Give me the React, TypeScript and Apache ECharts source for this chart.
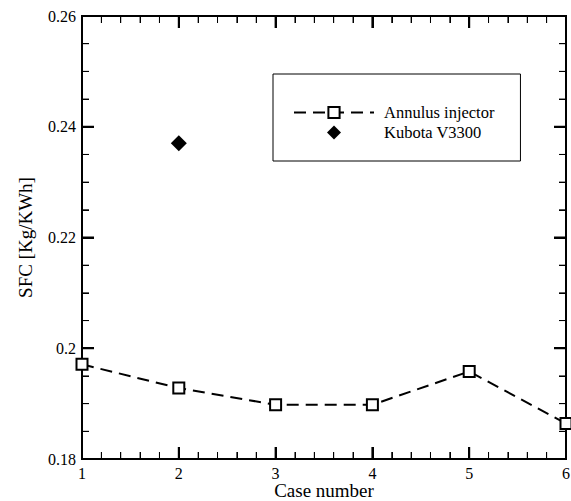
import React, { useEffect, useRef } from "react";
import * as echarts from "echarts";

const caseNumbers = [1, 2, 3, 4, 5, 6];
const annulusSFC = [0.1971, 0.1928, 0.1898, 0.1898, 0.1958, 0.1864];
const kubotaCase = [2];
const kubotaSFC = [0.237];
const xRange = { min: 1, max: 6, interval: 1 };
const yRange = { min: 0.18, max: 0.26, interval: 0.02 };
const xMinorSplit = 5;
const yMinorSplit = 4;

const FONT = "'Liberation Serif', serif";
const DIAMOND = "path://M0,-1L1,0L0,1L-1,0Z";

const L = 82;
const T = 16;
const R = 5;
const B = 42;
const MAJOR = 12;
const MINOR = 7;

// tick positions derived from the axis ranges: [value, 0 = x / 1 = y, 1 = major / 0 = minor]
function tickList() {
  const out: number[][] = [];
  const add = (r: { min: number; max: number; interval: number }, split: number, kind: number) => {
    const n = Math.round((r.max - r.min) / r.interval);
    for (let i = 0; i <= n; i++) {
      for (let j = 0; j < split; j++) {
        if (i === n && j > 0) break;
        const v = r.min + i * r.interval + (j * r.interval) / split;
        out.push([v, kind, j === 0 ? 1 : 0]);
      }
    }
  };
  add(xRange, xMinorSplit, 0);
  add(yRange, yMinorSplit, 1);
  return out;
}

function mainAxis(isX: boolean) {
  return {
    type: "value",
    gridIndex: 0,
    ...(isX ? xRange : yRange),
    axisLine: { show: true, onZero: false, lineStyle: { color: "#000", width: 2 } },
    axisTick: { show: true, inside: true, length: MAJOR, lineStyle: { color: "#000", width: 2 } },
    minorTick: { show: true, splitNumber: isX ? xMinorSplit : yMinorSplit, length: MINOR, lineStyle: { color: "#000", width: 1 } },
    splitLine: { show: false },
    axisLabel: { show: true, color: "#000", fontSize: 16, fontFamily: FONT, margin: 6 },
    name: isX ? "Case number" : "SFC [Kg/KWh]",
    nameLocation: "middle",
    nameGap: isX ? 22 : 47,
    nameMoveOverlap: isX ? false : undefined,
    nameTextStyle: { color: "#000", fontSize: 19, fontFamily: FONT },
  };
}

function stripAxis(isX: boolean, gridIndex: number, minor: boolean) {
  return {
    type: "value",
    gridIndex,
    ...(isX ? xRange : yRange),
    axisLine: { show: false },
    axisTick: { show: false },
    axisLabel: { show: false },
    minorTick: { show: false, splitNumber: isX ? xMinorSplit : yMinorSplit },
    splitLine: { show: !minor, lineStyle: { color: "#000", width: 2 } },
    minorSplitLine: { show: minor, lineStyle: { color: "#000", width: 1 } },
  };
}
function dummyAxis(gridIndex: number) {
  return { type: "value", gridIndex, min: 0, max: 1, show: false, splitLine: { show: false } };
}

export default function App() {
  const ref = useRef<HTMLDivElement>(null);
  useEffect(() => {
    if (!ref.current) return;
    const chart = echarts.init(ref.current, null, { renderer: "svg" });
    const ob = { outerBoundsMode: "none", containLabel: false };
    const grids = [
      { left: L, top: T, right: R, bottom: B, show: true, borderColor: "#000", borderWidth: 2, backgroundColor: "transparent", ...ob },
      { left: L, right: R, bottom: B, height: MAJOR, ...ob },
      { left: L, right: R, bottom: B, height: MINOR, ...ob },
      { left: L, right: R, top: T, height: MAJOR, ...ob },
      { left: L, right: R, top: T, height: MINOR, ...ob },
      { left: L, width: MAJOR, top: T, bottom: B, ...ob },
      { left: L, width: MINOR, top: T, bottom: B, ...ob },
      { right: R, width: MAJOR, top: T, bottom: B, ...ob },
      { right: R, width: MINOR, top: T, bottom: B, ...ob },
    ];
    const xAxes: any[] = [mainAxis(true)];
    const yAxes: any[] = [mainAxis(false)];
    for (let g = 1; g <= 4; g++) {
      xAxes.push(stripAxis(true, g, g % 2 === 0));
      yAxes.push(dummyAxis(g));
    }
    for (let g = 5; g <= 8; g++) {
      xAxes.push(dummyAxis(g));
      yAxes.push(stripAxis(false, g, g % 2 === 0));
    }
    chart.setOption({
      animation: false,
      textStyle: { fontFamily: FONT },
      grid: grids,
      legend: {
        orient: "vertical",
        left: 273,
        top: 74,
        borderColor: "#000",
        borderWidth: 1,
        padding: [30, 26, 20, 20],
        itemWidth: 80,
        itemHeight: 14,
        itemGap: 3,
        symbolKeepAspect: true,
        textStyle: { fontFamily: FONT, fontSize: 16.5, color: "#000", padding: [0, 0, 0, 5] },
        data: [
          { name: "Annulus injector" },
          { name: "Kubota V3300", icon: DIAMOND, itemStyle: { color: "#000", opacity: 1 } },
        ],
      },
      xAxis: xAxes,
      yAxis: yAxes,
      series: [
        {
          name: "ticks",
          type: "custom",
          xAxisIndex: 0,
          yAxisIndex: 0,
          silent: true,
          clip: false,
          z: 5,
          data: tickList(),
          renderItem: (_params: any, api: any) => {
            const v = api.value(0);
            const isY = api.value(1) === 1;
            const major = api.value(2) === 1;
            const len = major ? MAJOR : MINOR;
            const style = { stroke: "#000", lineWidth: major ? 2 : 1 };
            if (!isY) {
              const pb = api.coord([v, yRange.min]);
              const pt = api.coord([v, yRange.max]);
              return {
                type: "group",
                children: [
                  { type: "line", shape: { x1: pb[0], y1: pb[1], x2: pb[0], y2: pb[1] - len }, style },
                  { type: "line", shape: { x1: pt[0], y1: pt[1], x2: pt[0], y2: pt[1] + len }, style },
                ],
              };
            }
            const pl = api.coord([xRange.min, v]);
            const pr = api.coord([xRange.max, v]);
            return {
              type: "group",
              children: [
                { type: "line", shape: { x1: pl[0], y1: pl[1], x2: pl[0] + len, y2: pl[1] }, style },
                { type: "line", shape: { x1: pr[0], y1: pr[1], x2: pr[0] - len, y2: pr[1] }, style },
              ],
            };
          },
        },
        {
          name: "Annulus injector",
          type: "line",
          xAxisIndex: 0,
          yAxisIndex: 0,
          data: caseNumbers.map((c, i) => [c, annulusSFC[i]]),
          symbol: "rect",
          symbolSize: 11,
          itemStyle: { color: "#fff", borderColor: "#000", borderWidth: 2 },
          lineStyle: { color: "#000", width: 2, type: [12, 7] },
          clip: false,
          z: 6,
        },
        {
          name: "Kubota V3300",
          type: "scatter",
          xAxisIndex: 0,
          yAxisIndex: 0,
          data: kubotaCase.map((c, i) => [c, kubotaSFC[i]]),
          symbol: DIAMOND,
          symbolKeepAspect: true,
          symbolSize: 16,
          itemStyle: { color: "#000", opacity: 1 },
          z: 6,
        },
      ],
    });
    return () => chart.dispose();
  }, []);
  return <div ref={ref} style={{ width: 571, height: 501, position: "absolute", left: 0, top: 0 }} />;
}
